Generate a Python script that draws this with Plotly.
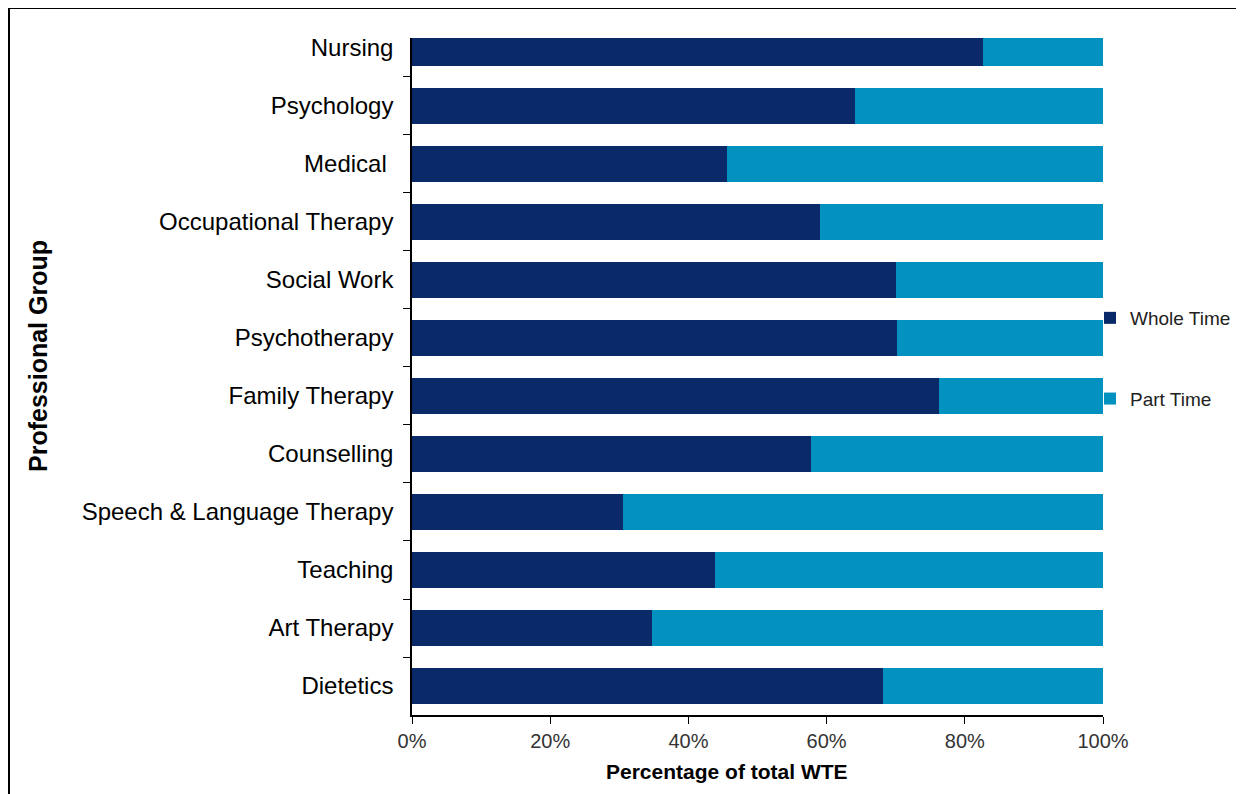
import plotly.graph_objects as go

categories = ["Nursing", "Psychology", "Medical ", "Occupational Therapy", "Social Work",
              "Psychotherapy", "Family Therapy", "Counselling", "Speech & Language Therapy",
              "Teaching", "Art Therapy", "Dietetics"]
whole_time = [82.6, 64.1, 45.6, 59.1, 70.0, 70.2, 76.3, 57.8, 30.5, 43.9, 34.8, 68.1]
part_time = [17.4, 35.9, 54.4, 40.9, 30.0, 29.8, 23.7, 42.2, 69.5, 56.1, 65.2, 31.9]
x_ticks = [0, 20, 40, 60, 80, 100]
x_tick_labels = ["0%", "20%", "40%", "60%", "80%", "100%"]

NAVY = "#0a2969"
CYAN = "#0392c0"
FONT = "Liberation Sans, Arial, sans-serif"

# the page body adds an 8px offset; figure is sized so that it ends at the window edge
OFF = 8
W, H = 1244 - OFF, 794 - OFF
L, T = 412 - OFF, 38 - OFF
R = W - (1103 - OFF)
B = H - (715 - OFF)
PW, PH = W - L - R, H - T - B

def px(x):
    return (x - OFF - L) / PW

def py(y):
    return (H - B - (y - OFF)) / PH

fig = go.Figure()
fig.add_trace(go.Bar(y=categories, x=whole_time, orientation="h", name="Whole Time",
                     marker=dict(color=NAVY, line=dict(width=0)), legendgroup="a"))
fig.add_trace(go.Bar(y=categories, x=part_time, orientation="h", name="Part Time",
                     marker=dict(color=CYAN, line=dict(width=0)), legendgroup="b"))

fig.update_layout(
    width=W, height=H,
    margin=dict(l=L, r=R, t=T, b=B, autoexpand=False),
    barmode="stack", bargap=0.385,
    paper_bgcolor="white", plot_bgcolor="white",
    font=dict(family=FONT, color="black"),
    legend=dict(x=px(1090), xanchor="left", y=py(299), yanchor="top",
                traceorder="grouped", tracegroupgap=53,
                font=dict(size=19, color="#222222", family=FONT),
                bgcolor="rgba(0,0,0,0)"),
    xaxis=dict(range=[0, 100], tickvals=x_ticks, ticktext=x_tick_labels,
               ticks="outside", ticklen=7, tickcolor="black", tickwidth=1,
               showline=True, linecolor="black", linewidth=1.5,
               showgrid=False, zeroline=False,
               tickfont=dict(size=20, color="#333333", family=FONT)),
    yaxis=dict(type="category", categoryorder="array", categoryarray=categories,
               range=[11.5, -0.172],
               ticks="outside", ticklen=7, tickcolor="black", tickwidth=1,
               tickson="boundaries", ticklabelstandoff=12,
               showline=True, linecolor="black", linewidth=1.5,
               showgrid=False, zeroline=False,
               tickfont=dict(size=24, color="black", family=FONT)),
    annotations=[
        dict(text="<b>Percentage of total WTE</b>", x=px(727), y=py(772),
             xref="paper", yref="paper", xanchor="center", yanchor="middle",
             showarrow=False, font=dict(size=21, color="black", family=FONT)),
        dict(text="<b>Professional Group</b>", x=px(38), y=py(356),
             xref="paper", yref="paper", xanchor="center", yanchor="middle",
             textangle=-90, showarrow=False,
             font=dict(size=25, color="black", family=FONT)),
    ],
    shapes=[
        dict(type="line", xref="paper", yref="paper", x0=px(9), x1=px(1260),
             y0=py(8), y1=py(8), line=dict(color="black", width=2)),
        dict(type="line", xref="paper", yref="paper", x0=px(9), x1=px(9),
             y0=py(8), y1=py(810), line=dict(color="black", width=2)),
    ],
)

fig.write_html("out.html")
